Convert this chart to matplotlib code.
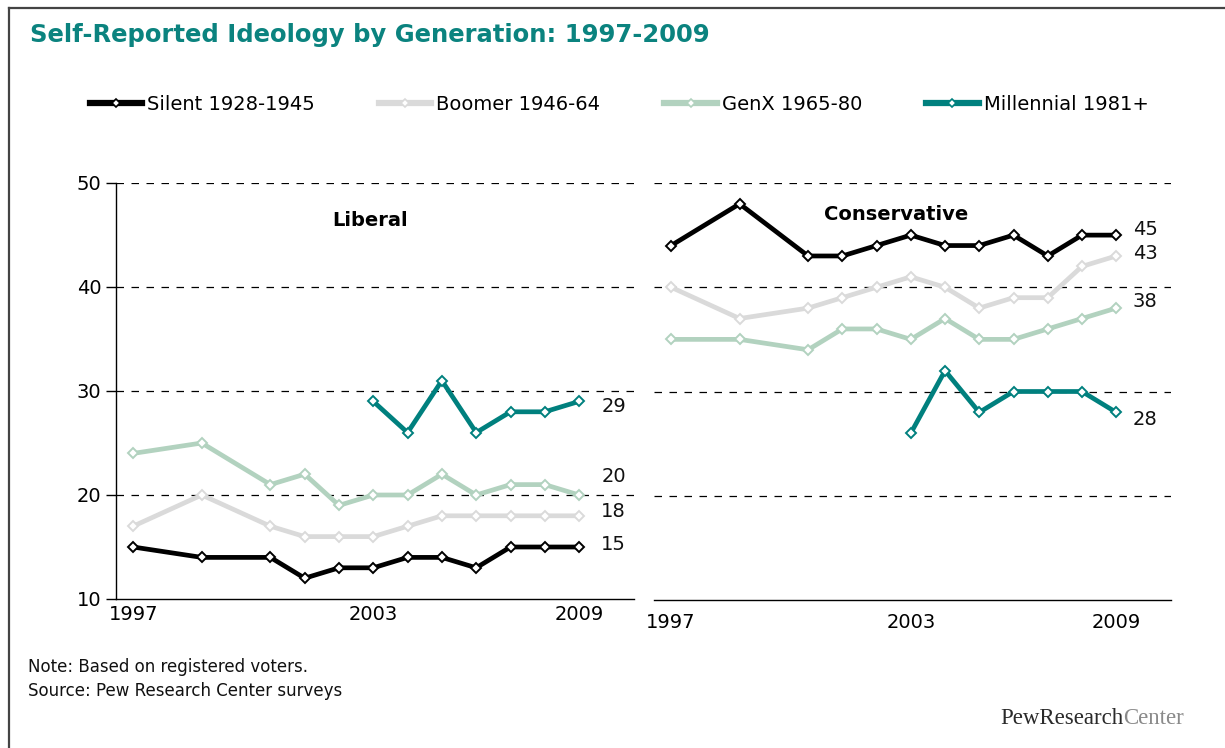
import matplotlib
matplotlib.use("Agg")
import matplotlib.pyplot as plt
from matplotlib.lines import Line2D

# survey waves (position on the time axis)
waves = [0, 2, 4, 5, 6, 7, 8, 9, 10, 11, 12, 13]
mill_waves = [7, 8, 9, 10, 11, 12, 13]
year_ticks = [0, 7, 13]
year_labels = ["1997", "2003", "2009"]

names = ["Silent 1928-1945", "Boomer 1946-64", "GenX 1965-80", "Millennial 1981+"]
colors = ["#000000", "#dadada", "#b2d2bf", "#00807e"]

# Liberal
lib_silent = [15, 14, 14, 12, 13, 13, 14, 14, 13, 15, 15, 15]
lib_boomer = [17, 20, 17, 16, 16, 16, 17, 18, 18, 18, 18, 18]
lib_genx = [24, 25, 21, 22, 19, 20, 20, 22, 20, 21, 21, 20]
lib_mill = [29, 26, 31, 26, 28, 28, 29]

# Conservative
con_silent = [44, 48, 43, 43, 44, 45, 44, 44, 45, 43, 45, 45]
con_boomer = [40, 37, 38, 39, 40, 41, 40, 38, 39, 39, 42, 43]
con_genx = [35, 35, 34, 36, 36, 35, 37, 35, 35, 36, 37, 38]
con_mill = [26, 32, 28, 30, 30, 30, 28]

title_col = "#0b837f"

fig = plt.figure(figsize=(12.25, 7.48), dpi=100)
W, H = 1225.0, 748.0

def px(x0, y0, x1, y1):
    return [x0 / W, 1 - y1 / H, (x1 - x0) / W, (y1 - y0) / H]

ax_l = fig.add_axes(px(116, 183, 634, 599))
ax_r = fig.add_axes(px(654, 183, 1171, 600))

def draw_panel(ax, series, end_dx, end_dy, label, label_xy):
    for (xs, ys), c in zip(series, colors):
        ax.plot(xs, ys, color=c, lw=3.4, marker="D", ms=5, mfc="white",
                mec=c, mew=1.4, solid_joinstyle="miter", zorder=3)
    for (xs, ys), dy in zip(series, end_dy):
        ax.annotate(str(ys[-1]), (xs[-1], ys[-1]), xytext=(end_dx, dy),
                    textcoords="offset points", fontsize=14, va="center",
                    ha="left", color="#111111", annotation_clip=False)
    ax.set_xlim(-0.5, 14.6)
    ax.set_ylim(10, 50)
    for v in [20, 30, 40, 50]:
        ax.axhline(v, color="black", lw=0.9, ls=(0, (6, 6)), zorder=1)
    ax.set_xticks(year_ticks)
    ax.set_xticklabels(year_labels, fontsize=14)
    ax.tick_params(axis="x", length=0)
    for s in ["top", "right"]:
        ax.spines[s].set_visible(False)
    ax.spines["bottom"].set_linewidth(1.0)
    ax.text(label_xy[0], label_xy[1], label, fontsize=14, fontweight="bold",
            ha="center", va="center", transform=fig.transFigure)

lib = [(waves, lib_silent), (waves, lib_boomer), (waves, lib_genx), (mill_waves, lib_mill)]
con = [(waves, con_silent), (waves, con_boomer), (waves, con_genx), (mill_waves, con_mill)]

draw_panel(ax_l, lib, 16, [2, 3, 13, -4], "Liberal", (370 / W, 1 - 221 / H))
draw_panel(ax_r, con, 12, [4, 2, 5, -5], "Conservative", (896 / W, 1 - 214 / H))

ax_l.set_yticks([10, 20, 30, 40, 50])
ax_l.tick_params(axis="y", labelsize=14, length=7, direction="out", width=1)
ax_l.tick_params(axis="x", pad=4)
ax_l.spines["left"].set_linewidth(1.0)

ax_r.spines["left"].set_visible(False)
ax_r.set_yticks([])
ax_r.tick_params(axis="x", pad=9)

# legend
handles = [Line2D([0], [0], color=c, lw=4.5, marker="D", ms=4, mfc="white",
                  mec=c, mew=1.2) for c in colors]
fig.legend(handles, names, loc="center", bbox_to_anchor=(619 / W, 1 - 104 / H),
           ncol=4, frameon=False, fontsize=14, handlelength=2.7,
           handletextpad=0.25, columnspacing=3.3)

fig.text(30 / W, 1 - 35 / H, "Self-Reported Ideology by Generation: 1997-2009",
         fontsize=17.5, fontweight="bold", color=title_col, va="center", ha="left")

fig.text(28 / W, 1 - 667 / H, "Note: Based on registered voters.", fontsize=12,
         va="center", ha="left", color="#111111")
fig.text(28 / W, 1 - 691 / H, "Source: Pew Research Center surveys", fontsize=12,
         va="center", ha="left", color="#111111")

# logo text
t1 = fig.text(1000 / W, 1 - 718 / H, "PewResearch", fontsize=16.5,
              family="Liberation Serif", color="#2a2a2a", va="center", ha="left")
fig.canvas.draw()
bb = t1.get_window_extent()
fig.text(bb.x1 / W, 1 - 718 / H, "Center", fontsize=16.5,
         family="Liberation Serif", color="#8a8a8a", va="center", ha="left")

# frame
fig.add_artist(Line2D([9 / W, 1], [1 - 8 / H, 1 - 8 / H], color="#444444", lw=1.6))
fig.add_artist(Line2D([9 / W, 9 / W], [0, 1 - 8 / H], color="#444444", lw=1.6))

fig.savefig("out.png", dpi=100)
